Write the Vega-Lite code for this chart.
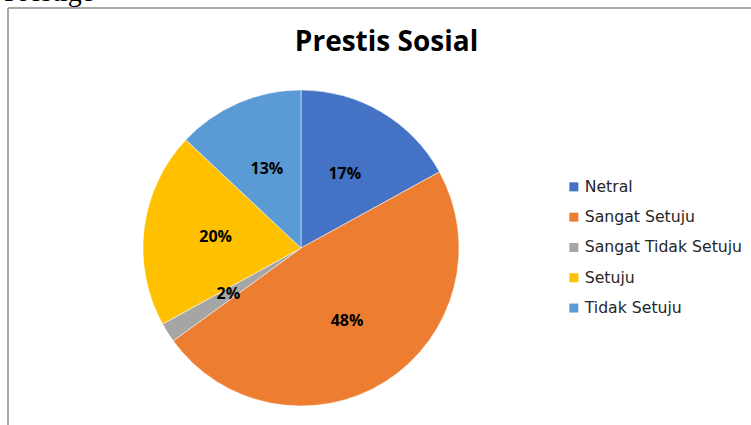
{
  "$schema": "https://vega.github.io/schema/vega-lite/v6.json",
  "width": 743,
  "height": 417,
  "autosize": "none",
  "padding": {"left": 8, "top": 8, "right": 0, "bottom": 0},
  "background": "white",
  "config": {"view": {"stroke": null}},
  "layer": [
    {
      "data": {"values": [{}]},
      "mark": {"type": "rule", "color": "#8c8c8c", "strokeWidth": 1.5},
      "encoding": {"y": {"value": 0}}
    },
    {
      "data": {"values": [{}]},
      "mark": {"type": "rule", "color": "#8c8c8c", "strokeWidth": 1.5},
      "encoding": {"x": {"value": 0}}
    },
    {
      "data": {"values": [{"t": "Prestige"}]},
      "mark": {"type": "text", "font": "Liberation Serif", "fontSize": 28, "color": "#000000", "align": "left", "baseline": "alphabetic", "x": -4, "y": -7.5},
      "encoding": {"text": {"field": "t"}}
    },
    {
      "data": {"values": [{"t": "Prestis Sosial"}]},
      "mark": {"type": "text", "font": "Open Sans", "fontSize": 28, "fontWeight": "bold", "color": "#000000", "align": "center", "baseline": "alphabetic", "x": 378.5, "y": 43},
      "encoding": {"text": {"field": "t"}}
    },
    {
      "data": {"name": "pie", "values": [
        {"kategori": "Netral", "persen": 17, "label": "17%"},
        {"kategori": "Sangat Setuju", "persen": 48, "label": "48%"},
        {"kategori": "Sangat Tidak Setuju", "persen": 2, "label": "2%"},
        {"kategori": "Setuju", "persen": 20, "label": "20%"},
        {"kategori": "Tidak Setuju", "persen": 13, "label": "13%"}
      ]},
      "layer": [
        {
          "mark": {"type": "arc", "outerRadius": 158, "x": 293, "y": 240, "stroke": "white", "strokeWidth": 0.5},
          "encoding": {
            "theta": {"field": "persen", "type": "quantitative", "stack": true},
            "order": {"field": "kategori", "sort": "ascending"},
            "color": {
              "field": "kategori", "type": "nominal",
              "scale": {"domain": ["Netral", "Sangat Setuju", "Sangat Tidak Setuju", "Setuju", "Tidak Setuju"],
                        "range": ["#4472C4", "#ED7D31", "#A5A5A5", "#FFC000", "#5B9BD5"]},
              "legend": {
                "title": null, "orient": "none", "legendX": 558, "legendY": 171,
                "symbolType": "square", "symbolSize": 81, "symbolStrokeWidth": 0,
                "labelFont": "DejaVu Sans", "labelFontSize": 15.7, "labelColor": "#262626",
                "labelOffset": 3, "rowPadding": 13.3, "labelLimit": 300
              }
            }
          }
        },
        {
          "mark": {"type": "text", "radius": 86, "x": 293, "y": 240, "font": "Open Sans", "fontSize": 16, "fontWeight": "bold", "color": "#000000"},
          "encoding": {
            "theta": {"field": "persen", "type": "quantitative", "stack": true},
            "order": {"field": "kategori", "sort": "ascending"},
            "text": {"field": "label"}
          }
        }
      ]
    }
  ]
}
